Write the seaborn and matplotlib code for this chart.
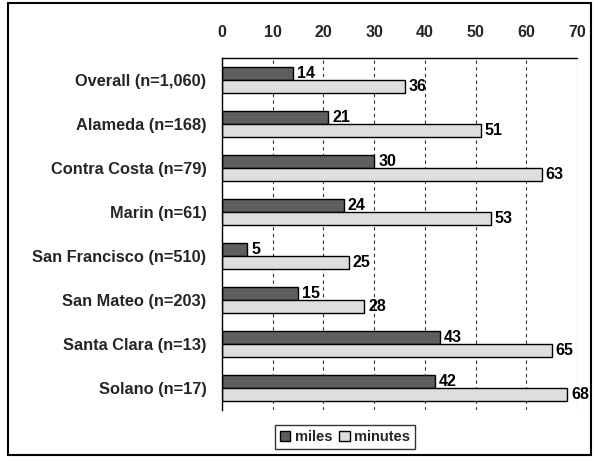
import pandas as pd
import seaborn as sns
import matplotlib.pyplot as plt
from matplotlib.patches import Rectangle
from matplotlib.ticker import MultipleLocator

counties = ["Overall (n=1,060)", "Alameda (n=168)", "Contra Costa (n=79)", "Marin (n=61)",
            "San Francisco (n=510)", "San Mateo (n=203)", "Santa Clara (n=13)", "Solano (n=17)"]
miles = [14, 21, 30, 24, 5, 15, 43, 42]
minutes = [36, 51, 63, 53, 25, 28, 65, 68]

df = pd.DataFrame({
    "county": counties * 2,
    "value": miles + minutes,
    "measure": ["miles"] * len(counties) + ["minutes"] * len(counties),
})

sns.set_theme(style="white")
plt.rcParams["font.family"] = ["Liberation Sans", "DejaVu Sans"]
plt.rcParams["font.weight"] = "bold"

fig = plt.figure(figsize=(5.98, 4.61), dpi=100)
ax = fig.add_axes([0.371, 0.111, 0.594, 0.763])

sns.barplot(data=df, x="value", y="county", hue="measure", hue_order=["miles", "minutes"],
            palette=["#5e5e5e", "#dedede"], width=0.6, orient="h", edgecolor="black",
            linewidth=1.0, saturation=1, ax=ax)

for c in ax.containers:
    ax.bar_label(c, padding=3, fontsize=11.5, fontweight="bold", color="black")

ax.set_xlim(0, 70)
ax.set_ylim(7.5, -0.5)
ax.xaxis.set_major_locator(MultipleLocator(10))
ax.xaxis.tick_top()
ax.tick_params(axis="x", length=0, pad=13, labelsize=11.5)
ax.tick_params(axis="y", length=0, pad=11, labelsize=11.8)
ax.set_yticks([i - 0.5 for i in range(9)], minor=True)
ax.tick_params(axis="y", which="minor", length=4, width=0.8, direction="out", color="black")
ax.set_xlabel("")
ax.set_ylabel("")
for lab in ax.get_xticklabels() + ax.get_yticklabels():
    lab.set_fontweight("bold")

ax.grid(axis="x", color="#333333", linestyle=(0, (3, 3)), linewidth=0.8)
ax.set_axisbelow(True)
for s in ["right", "bottom"]:
    ax.spines[s].set_visible(False)
for s in ["top", "left"]:
    ax.spines[s].set_color("black")
    ax.spines[s].set_linewidth(1.0)

ax.legend_.remove()
h, l = ax.get_legend_handles_labels()
leg = fig.legend(h, l, loc="center", bbox_to_anchor=(0.577, 0.052), ncol=2, frameon=True,
                 fancybox=False, edgecolor="black", fontsize=10.5, handlelength=0.7,
                 handleheight=0.7, handletextpad=0.3, columnspacing=0.5, borderpad=0.35)
leg.get_frame().set_linewidth(1.0)

fig.add_artist(Rectangle((0.013, 0.013), 0.975, 0.98, transform=fig.transFigure,
                         fill=False, edgecolor="black", linewidth=1.5))

fig.savefig("out.png", dpi=100)
